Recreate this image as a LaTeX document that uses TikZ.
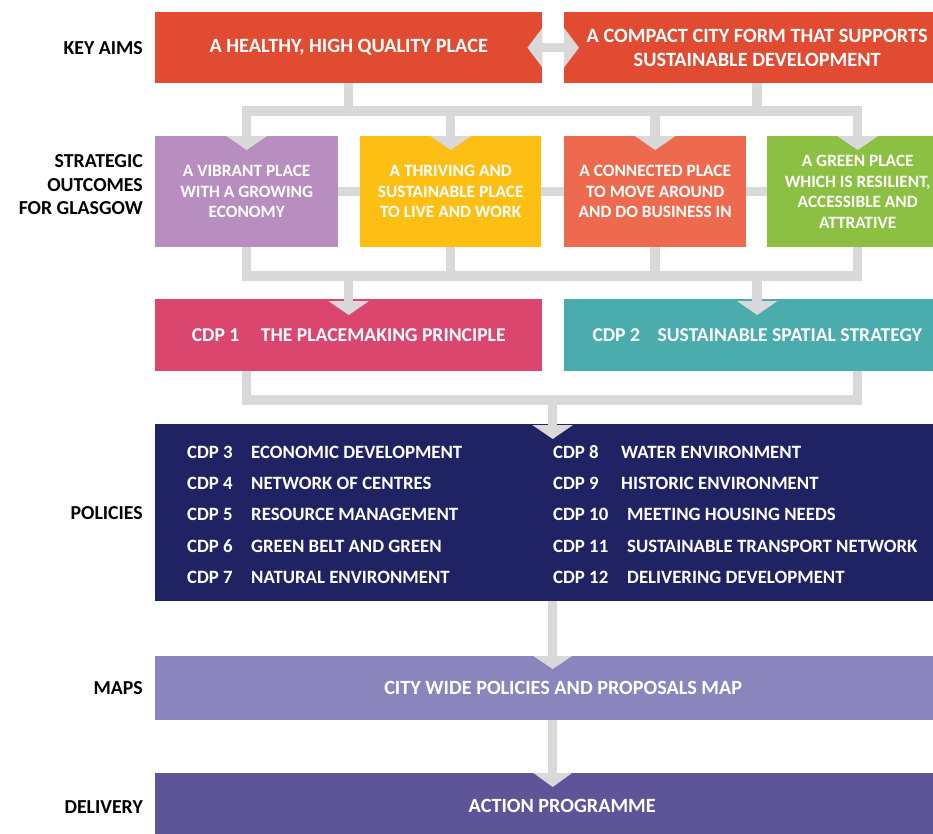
\documentclass[tikz,border=0pt]{standalone}
\usepackage{fontspec}
\setmainfont{Carlito}
\usetikzlibrary{arrows.meta}
\definecolor{aimc}{HTML}{E04B31}
\definecolor{vibc}{HTML}{B88DBF}
\definecolor{thrc}{HTML}{FDBF14}
\definecolor{conc}{HTML}{EE6A4E}
\definecolor{grnc}{HTML}{8CC043}
\definecolor{cdpac}{HTML}{DB466F}
\definecolor{cdpbc}{HTML}{4BACAE}
\definecolor{polc}{HTML}{1F2263}
\definecolor{mapc}{HTML}{8A86BD}
\definecolor{delc}{HTML}{5D5598}
\definecolor{connc}{HTML}{D9D9D9}
\pgfdeclarelayer{bg}
\pgfsetlayers{bg,main}
\begin{document}
\begin{tikzpicture}[x=1pt,y=-1pt,
  box/.style={rectangle,inner sep=0pt,anchor=north west,text=white,align=center},
  aimtxt/.style={font=\bfseries\fontsize{20.3}{24}\selectfont},
  outtxt/.style={font=\bfseries\fontsize{17.3}{20.6}\selectfont},
  ctxt/.style={font=\bfseries\fontsize{19.6}{22}\selectfont},
  mtxt/.style={font=\bfseries\fontsize{20.2}{22}\selectfont},
  lbl/.style={anchor=east,align=right,inner sep=0pt,text=black,font=\bfseries\fontsize{19.8}{23.5}\selectfont},
  poltxt/.style={anchor=west,inner sep=0pt,text=white,font=\bfseries\fontsize{18.8}{22}\selectfont},
  conn/.style={draw=connc,line width=9.5pt},
  bar/.style={conn,line cap=rect},
  arr/.style={conn,-{Triangle[width=40pt,length=14pt]}},
]
\useasboundingbox (0,0) rectangle (933,833);
\clip (0,0) rectangle (933,833);

% left labels
\node[lbl] (lkey) at (143,48) {KEY AIMS};
\node[lbl] (lout) at (143,185) {STRATEGIC\\OUTCOMES\\FOR GLASGOW};
\node[lbl] (lpol) at (143,513) {POLICIES};
\node[lbl] (lmap) at (143,688) {MAPS};
\node[lbl] (ldel) at (143,807) {DELIVERY};

% key aims
\node[box,aimtxt,fill=aimc,minimum width=387pt,minimum height=71pt] (aimL) at (155,12) {A HEALTHY, HIGH QUALITY PLACE};
\node[box,aimtxt,fill=aimc,minimum width=386pt,minimum height=71pt] (aimR) at (564,12) {A COMPACT CITY FORM THAT SUPPORTS\\SUSTAINABLE DEVELOPMENT};

% strategic outcomes
\node[box,outtxt,fill=vibc,minimum width=183pt,minimum height=111pt] (vib) at (155,136) {A VIBRANT PLACE\\WITH A GROWING\\ECONOMY};
\node[box,outtxt,fill=thrc,minimum width=181pt,minimum height=111pt] (thr) at (360,136) {A THRIVING AND\\SUSTAINABLE PLACE\\TO LIVE AND WORK};
\node[box,outtxt,fill=conc,minimum width=182pt,minimum height=111pt] (con) at (564,136) {A CONNECTED PLACE\\TO MOVE AROUND\\AND DO BUSINESS IN};
\node[box,outtxt,fill=grnc,minimum width=181pt,minimum height=111pt] (grn) at (767,136) {A GREEN PLACE\\WHICH IS RESILIENT,\\ACCESSIBLE AND\\ATTRATIVE};

% CDP 1 and 2
\node[box,ctxt,fill=cdpac,minimum width=387pt,minimum height=72pt] (cdp1) at (155,299) {CDP 1\hspace{1.1em}THE PLACEMAKING PRINCIPLE};
\node[box,ctxt,fill=cdpbc,minimum width=386pt,minimum height=72pt] (cdp2) at (564,299) {CDP 2\hspace{0.9em}SUSTAINABLE SPATIAL STRATEGY};

% policies
\node[box,fill=polc,minimum width=795pt,minimum height=177pt] (pol) at (155,424) {};
\node[poltxt] (p3) at (187,452) {\makebox[64pt][l]{CDP 3}ECONOMIC DEVELOPMENT};
\node[poltxt] (p4) at (187,483) {\makebox[64pt][l]{CDP 4}NETWORK OF CENTRES};
\node[poltxt] (p5) at (187,514) {\makebox[64pt][l]{CDP 5}RESOURCE MANAGEMENT};
\node[poltxt] (p6) at (187,546) {\makebox[64pt][l]{CDP 6}GREEN BELT AND GREEN};
\node[poltxt] (p7) at (187,577) {\makebox[64pt][l]{CDP 7}NATURAL ENVIRONMENT};
\node[poltxt] (p8) at (553,452) {\makebox[68pt][l]{CDP 8}WATER ENVIRONMENT};
\node[poltxt] (p9) at (553,483) {\makebox[68pt][l]{CDP 9}HISTORIC ENVIRONMENT};
\node[poltxt] (p10) at (553,514) {\makebox[74pt][l]{CDP 10}MEETING HOUSING NEEDS};
\node[poltxt] (p11) at (553,546) {\makebox[74pt][l]{CDP 11}SUSTAINABLE TRANSPORT NETWORK};
\node[poltxt] (p12) at (553,577) {\makebox[74pt][l]{CDP 12}DELIVERING DEVELOPMENT};

% maps and delivery
\node[box,mtxt,fill=mapc,minimum width=816pt,minimum height=64pt] (maps) at (155,656) {CITY WIDE POLICIES AND PROPOSALS MAP};
\node[box,mtxt,fill=delc,minimum width=814pt,minimum height=66pt] (del) at (155,773) {ACTION PROGRAMME};

% coordinates for bars
\coordinate (b1) at (0,111);
\coordinate (b2) at (0,276);
\coordinate (b3) at (0,400);
\coordinate (mt) at ([yshift=-13pt]maps.north);
\coordinate (dt) at ([yshift=-14pt]del.north);

\begin{pgfonlayer}{bg}
  \draw[bar] (aimL.south) -- (aimL.south |- b1);
  \draw[bar] (aimR.south) -- (aimR.south |- b1);
  \draw[bar] (vib.north |- b1) -- (grn.north |- b1);
  \draw[conn] (vib.east) -- (thr.west);
  \draw[conn] (thr.east) -- (con.west);
  \draw[conn] (con.east) -- (grn.west);
  \draw[bar] (vib.south) -- (vib.south |- b2);
  \draw[bar] (thr.south) -- (thr.south |- b2);
  \draw[bar] (con.south) -- (con.south |- b2);
  \draw[bar] (grn.south) -- (grn.south |- b2);
  \draw[bar] (vib.south |- b2) -- (grn.south |- b2);
  \draw[bar] (vib.south |- cdp1.south) -- (vib.south |- b3);
  \draw[bar] (grn.south |- cdp2.south) -- (grn.south |- b3);
  \draw[bar] (vib.south |- b3) -- (grn.south |- b3);
\end{pgfonlayer}

% arrows on top
\draw[conn,{Triangle[width=39pt,length=15pt]}-{Triangle[width=39pt,length=15pt]}] ([xshift=-15pt]aimL.east) -- ([xshift=15pt]aimR.west);
\foreach \o in {vib,thr,con,grn}{
  \draw[arr] (\o.north |- b1) -- ([yshift=-14pt]\o.north);
}
\draw[arr] (cdp1.north |- b2) -- ([yshift=-16pt]cdp1.north);
\draw[arr] (cdp2.north |- b2) -- ([yshift=-16pt]cdp2.north);
\draw[arr] (pol.north |- b3) -- ([yshift=-15pt]pol.north);
\draw[arr,-{Triangle[width=38pt,length=13pt]}] (pol.south) -- (pol.south |- mt);
\draw[arr,-{Triangle[width=38pt,length=14pt]}] (pol.south |- maps.south) -- (pol.south |- dt);
\end{tikzpicture}
\end{document}
